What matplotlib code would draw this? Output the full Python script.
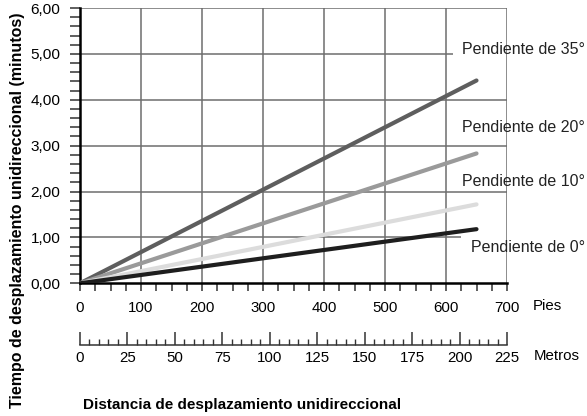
import matplotlib
matplotlib.use('Agg')
import matplotlib.pyplot as plt
from matplotlib.ticker import MultipleLocator, FuncFormatter

plt.rcParams['font.family'] = ['Liberation Sans', 'DejaVu Sans']

# Datos (distancia en pies, tiempo en minutos)
distancia_pies = [0, 650]
pendientes = ['Pendiente de 35°', 'Pendiente de 20°', 'Pendiente de 10°', 'Pendiente de 0°']
tiempo_35 = [0, 4.42]
tiempo_20 = [0, 2.83]
tiempo_10 = [0, 1.72]
tiempo_0 = [0, 1.18]
colores = ['#5e5e5e', '#9a9a9a', '#dcdcdc', '#1e1e1e']

W, H = 587, 416
fig = plt.figure(figsize=(W / 100, H / 100), dpi=100)

x0, x1 = 80, 507
y0, y1 = 283.3, 8
ax = fig.add_axes([x0 / W, 1 - y0 / H, (x1 - x0) / W, (y0 - y1) / H])
ax.set_xlim(0, 700)
ax.set_ylim(0, 6)

# Rejilla (las líneas de 5,00 y 1,00 sirven de guía para las etiquetas)
grid_kw = dict(color='#6e6e6e', linewidth=1.1, zorder=1)
ax.hlines([2, 3, 4, 6], 0, 700, **grid_kw)
ax.hlines([5], 0, 611, **grid_kw)
ax.hlines([1], 0, 624, **grid_kw)
ax.vlines(range(100, 701, 100), 0, 6, **grid_kw)

for serie, color in zip([tiempo_35, tiempo_20, tiempo_10, tiempo_0], colores):
    ax.plot(distancia_pies, serie, color=color, linewidth=3.0,
            solid_capstyle='round', zorder=3)

# Etiquetas de pendiente
label_pos = [(627, 5.09), (627, 3.4), (627, 2.22), (641, 0.78)]
for texto, (lx, ly) in zip(pendientes, label_pos):
    ax.text(lx, ly, texto, fontsize=11.5, va='center', ha='left',
            color='#222222', clip_on=False)

ax.spines['top'].set_visible(False)
ax.spines['right'].set_visible(False)
ax.spines['left'].set_linewidth(1.8)
ax.spines['bottom'].set_linewidth(1.8)

ax.xaxis.set_major_locator(MultipleLocator(100))
ax.xaxis.set_minor_locator(MultipleLocator(25))
ax.yaxis.set_major_locator(MultipleLocator(1))
ax.yaxis.set_minor_locator(MultipleLocator(0.2))
ax.yaxis.set_major_formatter(FuncFormatter(lambda v, p: f"{v:.2f}".replace('.', ',')))
ax.tick_params(axis='x', which='both', direction='out', length=5.8, width=1.1,
               color='#333333', labelsize=10.8, pad=7)
ax.tick_params(axis='y', which='both', direction='out', length=7, width=1.1,
               color='#333333', labelsize=11.1, pad=7)
fig.text(533 / W, 1 - 306 / H, 'Pies', fontsize=10.8, ha='left', va='center')

# Escala en metros
ax2 = fig.add_axes([x0 / W, 1 - 345 / H, (x1 - x0) / W, 0.0001])
ax2.set_xlim(0, 225)
ax2.set_ylim(0, 1)
for k in ['top', 'right', 'left']:
    ax2.spines[k].set_visible(False)
ax2.spines['bottom'].set_linewidth(1.1)
ax2.spines['bottom'].set_color('#333333')
ax2.set_yticks([])
ax2.xaxis.set_major_locator(MultipleLocator(25))
ax2.xaxis.set_minor_locator(MultipleLocator(5))
ax2.tick_params(axis='x', which='major', direction='in', length=9.4, width=1.1,
                color='#333333', labelsize=10.8, pad=4)
ax2.tick_params(axis='x', which='minor', direction='in', length=4.3, width=1.0,
                color='#333333')
fig.text(534 / W, 1 - 356 / H, 'Metros', fontsize=10.8, ha='left', va='center')

fig.text(17.5 / W, 1 - 210 / H, 'Tiempo de desplazamiento unidireccional (minutos)',
         rotation=90, fontsize=11.5, fontweight='bold', ha='center', va='center')
fig.text(242 / W, 1 - 405 / H, 'Distancia de desplazamiento unidireccional',
         fontsize=11, fontweight='bold', ha='center', va='center')

fig.savefig('out.png', dpi=100)
